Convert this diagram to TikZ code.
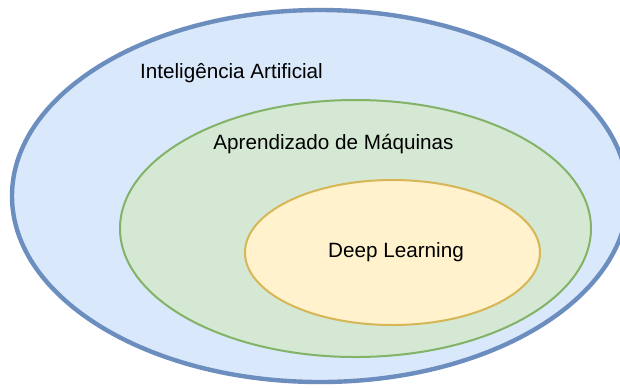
\documentclass[tikz,border=0pt]{standalone}
\usepackage{fontspec}
\setmainfont{Liberation Sans}

\definecolor{aiFill}{RGB}{218,232,252}
\definecolor{aiLine}{RGB}{108,142,191}
\definecolor{mlFill}{RGB}{213,232,212}
\definecolor{mlLine}{RGB}{130,179,102}
\definecolor{dlFill}{RGB}{255,242,204}
\definecolor{dlLine}{RGB}{214,182,86}

\tikzset{every picture/.style={line width=0.75pt}}
\tikzset{
  label/.style={anchor=center,inner sep=0.75pt,font=\fontsize{15.5}{18}\selectfont},
}

\begin{document}
\begin{tikzpicture}[x=0.75pt,y=0.75pt,yscale=-1,xscale=1]
\useasboundingbox (0,0) rectangle (620,387);
\fill[white] (0,0) rectangle (620,387);

%Shape: Ellipse [outer]
\draw [color=aiLine,fill=aiFill,line width=3.3pt] (320,196) ellipse (308 and 186);
%Shape: Ellipse [middle]
\draw [color=mlLine,fill=mlFill,line width=1.5pt] (355.5,228.5) ellipse (235.5 and 128.5);
%Shape: Ellipse [inner]
\draw [color=dlLine,fill=dlFill,line width=1.5pt] (392.5,252.5) ellipse (147.5 and 72.5);

% Text Node
\node [label] (ai) at (231.5,73) {Inteligência Artificial};
% Text Node
\node [label] (ml) at (333.5,144) {Aprendizado de Máquinas};
% Text Node
\node [label] (dl) at (396,252) {Deep Learning};

\end{tikzpicture}
\end{document}
